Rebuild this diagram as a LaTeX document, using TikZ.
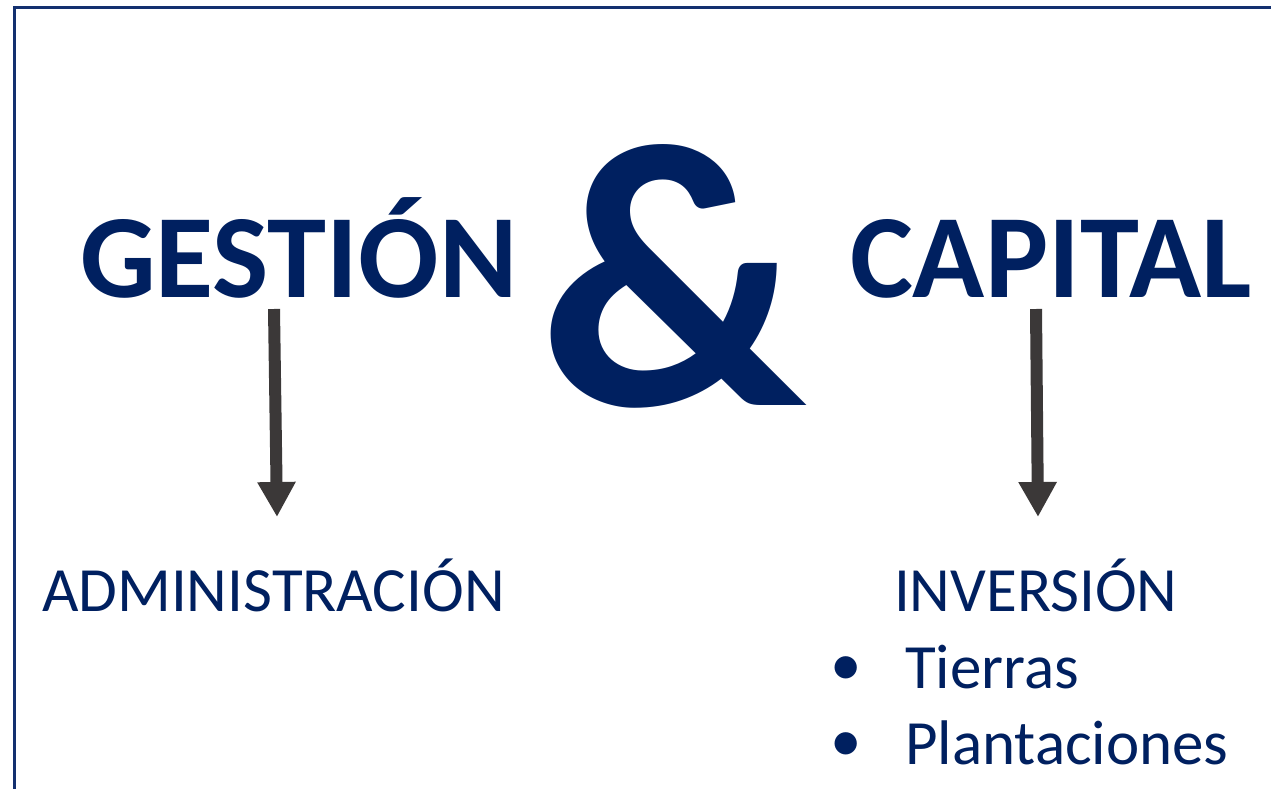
\documentclass[tikz,border=0pt]{standalone}
\usepackage{fontspec}
\setmainfont{Carlito}
\usetikzlibrary{arrows.meta}
\definecolor{navy}{HTML}{002060}
\definecolor{framec}{HTML}{13306F}
\definecolor{arrowc}{HTML}{3B3838}
\tikzset{
  big/.style={inner sep=0pt, outer sep=0pt, text=navy, font=\fontsize{119}{119}\selectfont\bfseries, anchor=base west},
  amp/.style={inner sep=0pt, outer sep=0pt, text=navy, font=\fontsize{378}{378}\selectfont\bfseries, anchor=base west},
  small/.style={inner sep=0pt, outer sep=0pt, text=navy, font=\fontsize{63}{63}\selectfont, anchor=base west},
  downarrow/.style={draw=arrowc, line width=12pt, -{Triangle[width=36pt,length=35pt]}, shorten >=0pt},
  frameline/.style={draw=framec, line width=2.5pt}
}
\begin{document}
\begin{tikzpicture}[x=1pt,y=-1pt]
\useasboundingbox (0,0) rectangle (1271,789);
\fill[white] (0,0) rectangle (1271,789);
\coordinate (fr1) at (1272,7.5);
\coordinate (fr2) at (14.5,7.5);
\coordinate (fr3) at (14.5,790);
\draw[frameline] (fr1) -- (fr2) -- (fr3);

\node[big] (gestion) at (80,297) {GESTIÓN};
\node[big] (capital) at (850,297) {CAPITAL};
\node[amp] (and) at (539,405) {\&};

\coordinate (a1s) at (274,309);
\coordinate (a1e) at (277,517);
\coordinate (a2s) at (1036,309);
\coordinate (a2e) at (1038,517);
\draw[downarrow] (a1s) -- (a1e);
\draw[downarrow] (a2s) -- (a2e);

\node[small] (admin) at (42,611) {ADMINISTRACIÓN};
\node[small] (inversion) at (894,611) {INVERSIÓN};
\node[small] (b1) at (830,685) {•};
\node[small] (tierras) at (905,688) {Tierras};
\node[small] (b2) at (830,761) {•};
\node[small] (plant) at (905,764) {Plantaciones};
\end{tikzpicture}
\end{document}
